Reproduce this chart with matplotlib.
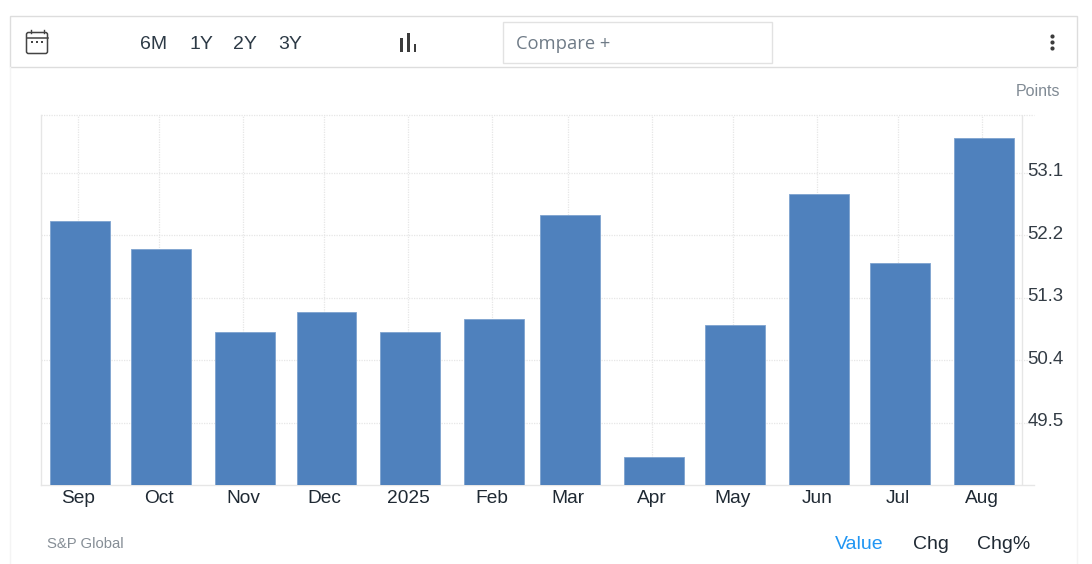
import pandas as pd
import matplotlib
matplotlib.use('Agg')
import matplotlib.pyplot as plt
from matplotlib.patches import Rectangle, FancyBboxPatch
from matplotlib.transforms import ScaledTranslation

months = ['2024-09-01', '2024-10-01', '2024-11-01', '2024-12-01', '2025-01-01', '2025-02-01',
          '2025-03-01', '2025-04-01', '2025-05-01', '2025-06-01', '2025-07-01', '2025-08-01']
values = [52.4, 52.0, 50.8, 51.1, 50.8, 51.0, 52.5, 49.0, 50.9, 52.8, 51.8, 53.6]
x_labels = ['Sep', 'Oct', 'Nov', 'Dec', '2025', 'Feb', 'Mar', 'Apr', 'May', 'Jun', 'Jul', 'Aug']
y_ticks = [49.5, 50.4, 51.3, 52.2, 53.1]
ranges = ['6M', '1Y', '2Y', '3Y']
modes = ['Value', 'Chg', 'Chg%']

W, H = 1092, 564
plt.rcParams['font.family'] = ['Liberation Sans', 'DejaVu Sans']

fig = plt.figure(figsize=(W / 100, H / 100), dpi=100, facecolor='white')

# Overlay in pixel coordinates for the page furniture around the chart
page = fig.add_axes([0, 0, 1, 1], zorder=0)
page.set_xlim(0, W)
page.set_ylim(H, 0)
page.axis('off')

page.plot([10, 10], [67, H], color='#f4f4f4', lw=1)
page.plot([1077, 1077], [67, H], color='#f4f4f4', lw=1)
page.add_patch(Rectangle((10, 16), 1067, 51, fc='white', ec='#dddddd', lw=1))
page.add_patch(Rectangle((503, 21.5), 269, 41, fc='white', ec='#e2e2e2', lw=1))
page.text(516, 44, 'Compare +', fontsize=13.2, family='Open Sans', color='#6f7b87', va='center', ha='left')

# Calendar icon
page.add_patch(FancyBboxPatch((26.5, 32.5), 21, 21, boxstyle='round,pad=0,rounding_size=2', fc='none', ec='#444444', lw=1.1))
page.plot([26.5, 47.5], [37.5, 37.5], color='#444444', lw=1.1)
page.plot([30.5, 30.5], [29.5, 32.5], color='#444444', lw=1)
page.plot([44, 44], [29.5, 32.5], color='#444444', lw=1)
page.plot([32, 37, 42], [42, 42, 42], ls='none', marker='s', ms=1.8, mew=0, color='#444444')

for label, px in zip(ranges, [154, 201, 245, 290]):
    page.text(px, 44.5, label, fontsize=14, color='#2d3a46', ha='center', va='center')

# Bar chart icon
for px, top, wid in [(401.5, 38, 3), (408, 33, 3), (415.2, 43.5, 2.5)]:
    page.add_patch(Rectangle((px - wid / 2, top), wid, 52 - top, fc='#3c3c3c', ec='none'))

# Menu dots
page.plot([1052, 1052, 1052], [36, 42, 48], ls='none', marker='o', ms=3, mew=0, color='#3c3c3c')

page.text(1060, 92, 'Points', fontsize=11.5, color='#808a94', ha='right', va='center')
page.text(47, 544, 'S&P Global', fontsize=10.7, color='#868e96', ha='left', va='center')
for label, px, col in zip(modes, [859, 931, 1004], ['#2196f3', '#1f2933', '#1f2933']):
    page.text(px, 544.5, label, fontsize=14, color=col, ha='center', va='center')

# Chart axes run from x=41 to x=1034, y=115 to y=485
ax = fig.add_axes([41 / W, 1 - 485 / H, (1034 - 41) / W, (485 - 115) / H], zorder=1)
ax.patch.set_alpha(0)

dates = pd.to_datetime(months)
px_per_day = 904 / 334
ax.bar(dates, values, width=22, color='#4f81bd', edgecolor='#7ea3cf', linewidth=0.6, zorder=3)

ax.set_xlim(dates[0] - pd.Timedelta(days=39 / px_per_day), dates[0] + pd.Timedelta(days=954 / px_per_day))
ax.set_ylim(48.6, 53.935)

# The tick marks sit about 2px left of the bar centres in the original
ax.set_xticks(dates - pd.Timedelta(days=2 / px_per_day))
ax.set_xticklabels(x_labels)
ax.set_yticks(y_ticks)
ax.set_yticklabels([f'{v:.1f}' for v in y_ticks])
ax.yaxis.tick_right()
ax.tick_params(axis='x', length=0, pad=3.8, labelsize=13.8, labelcolor='#1f2933')
ax.tick_params(axis='y', length=0, pad=-4.6, labelsize=13.4, labelcolor='#333c45')
for lab in ax.get_yticklabels():
    lab.set_horizontalalignment('left')
    lab.set_transform(lab.get_transform() + ScaledTranslation(0, 3 / 100, fig.dpi_scale_trans))

ax.grid(True, color='#e6e6e6', lw=0.9, ls=(0, (1, 1)), zorder=0)
ax.set_axisbelow(True)

for side in ['top', 'right']:
    ax.spines[side].set_visible(False)
ax.plot([0, 1], [1, 1], transform=ax.transAxes, color='#e6e6e6', lw=0.9, ls=(0, (1, 1)), clip_on=False)
ax.spines['left'].set_color('#e6e6e6')
ax.spines['bottom'].set_color('#e6e6e6')
ax.spines['left'].set_linewidth(1)
ax.spines['bottom'].set_linewidth(1)
# Vertical rule left of the value labels
ax.plot([(1022 - 41) / 993] * 2, [0, 1], transform=ax.transAxes, color='#e6e6e6', lw=1)

fig.savefig('out.png', dpi=100)
